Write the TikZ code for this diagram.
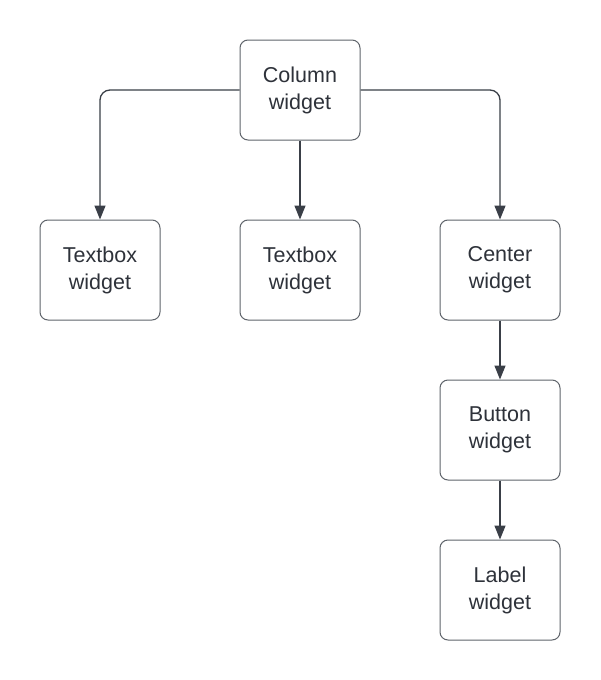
\documentclass[tikz,border=0pt]{standalone}
\usepackage{fontspec}
\setmainfont{Liberation Sans}
\usetikzlibrary{arrows.meta}
\definecolor{boxline}{HTML}{5F646B}
\definecolor{txt}{HTML}{2E323A}
\definecolor{arr}{HTML}{3A3F47}
\begin{document}
\begin{tikzpicture}[x=1pt,y=-1pt,
  wbox/.style={draw=boxline,line width=1pt,rounded corners=8pt,minimum width=120pt,minimum height=100pt,inner sep=0pt,align=center,text=txt,font=\fontsize{21.5}{27}\selectfont},
  conn/.style={draw=arr,line width=1.3pt,rounded corners=10pt,-{Triangle[length=14pt,width=11pt]}}]
\useasboundingbox[fill=white] (0,0) rectangle (600,680);
\node[wbox] (col) at (300,90) {Column\\widget};
\node[wbox] (tb1) at (100,270) {Textbox\\widget};
\node[wbox] (tb2) at (300,270) {Textbox\\widget};
\node[wbox] (cen) at (500,270) {Center\\widget};
\node[wbox] (btn) at (500,430) {Button\\widget};
\node[wbox] (lab) at (500,590) {Label\\widget};
\draw[conn] (col.west) -| (tb1.north);
\draw[conn] (col.south) -- (tb2.north);
\draw[conn] (col.east) -| (cen.north);
\draw[conn] (cen.south) -- (btn.north);
\draw[conn] (btn.south) -- (lab.north);
\end{tikzpicture}
\end{document}
